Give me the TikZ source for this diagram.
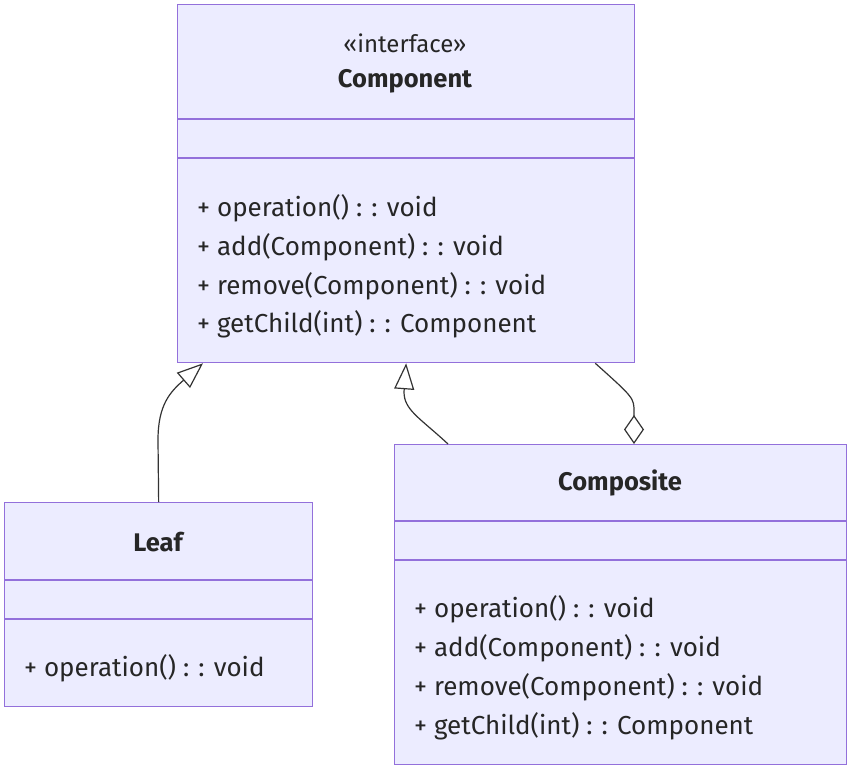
\documentclass[tikz,border=0pt]{standalone}
\usepackage{fontspec}
\setmainfont{Fira Sans}
\usetikzlibrary{arrows.meta}
\usetikzlibrary{positioning}

\definecolor{boxline}{HTML}{9370DB}
\definecolor{boxfill}{HTML}{ECECFF}
\definecolor{edgeline}{HTML}{333333}

\tikzset{
	classbox/.style={draw=boxline, fill=boxfill, line width=1.3pt, inner sep=0pt, anchor=north west},
	divider/.style={draw=boxline, line width=1.3pt},
	member/.style={anchor=west, inner sep=0pt, font=\fontsize{26}{30}\selectfont, text=black!85},
	title/.style={inner sep=0pt, font=\fontsize{25.5}{30}\selectfont\bfseries, text=black!85},
	stereo/.style={inner sep=0pt, font=\fontsize{24}{30}\selectfont, text=black!85},
	relation/.style={draw=edgeline, line width=1.2pt},
	inherit/.style={-{Triangle[open, length=26pt, width=20pt, fill=white]}},
	aggregate/.style={{Diamond[open, length=29pt, width=20pt, fill=white]}-},
}

\begin{document}
\begin{tikzpicture}[x=1pt, y=-1pt]
				\useasboundingbox (0,0) rectangle (850,770);
				
				% Component
				\node[classbox, minimum width=457pt, minimum height=358pt] (component) at (177,4) {};
				\draw[divider] (177,119) -- (634,119);
				\draw[divider] (177,158) -- (634,158);
				\node[stereo] (componentstereo) at (405,43) {«interface»};
				\node[title] (componenttitle) at (405,81) {Component};
				\node[member] (componentop) at (197,208) {+ operation() : : void};
				\node[member] (componentadd) at (197,247) {+ add(Component) : : void};
				\node[member] (componentremove) at (197,286) {+ remove(Component) : : void};
				\node[member] (componentchild) at (197,324) {+ getChild(int) : : Component};
				
				% Leaf
				\node[classbox, minimum width=308pt, minimum height=204pt] (leaf) at (4,502) {};
				\draw[divider] (4,580) -- (312,580);
				\draw[divider] (4,619) -- (312,619);
				\node[title] (leaftitle) at (158,542) {Leaf};
				\node[member] (leafop) at (24,668) {+ operation() : : void};
				
				% Composite
				\node[classbox, minimum width=452pt, minimum height=320pt] (composite) at (394,444) {};
				\draw[divider] (394,521) -- (846,521);
				\draw[divider] (394,560) -- (846,560);
				\node[title] (compositetitle) at (620,483) {Composite};
				\node[member] (compositeop) at (414,609) {+ operation() : : void};
				\node[member] (compositeadd) at (414,648) {+ add(Component) : : void};
				\node[member] (compositeremove) at (414,687) {+ remove(Component) : : void};
				\node[member] (compositechild) at (414,726) {+ getChild(int) : : Component};
				
				% relations
				\draw[relation, inherit] (leaf.north) -- (158,440) .. controls (158,405) and (170,392) .. ([xshift=26pt]component.south west);
				\draw[relation, inherit] ([xshift=54pt]composite.north west) .. controls (420,418) and (404,410) .. (404,392) -- (component.south);
				\draw[relation, aggregate] ([xshift=240pt]composite.north west) -- (634,412) .. controls (634,398) .. ([xshift=-40pt]component.south east);
			\end{tikzpicture}
\end{document}
